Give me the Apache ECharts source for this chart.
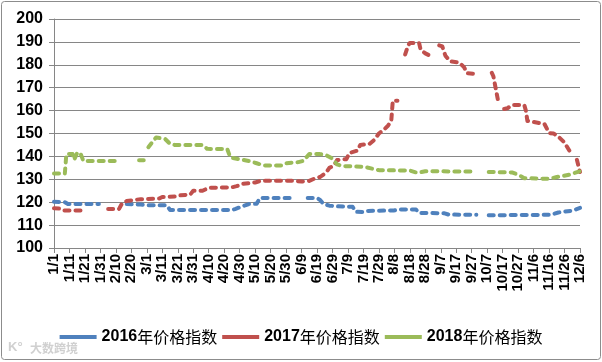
<!DOCTYPE html>
<html>
<head>
<meta charset="utf-8">
<script src="https://cdn.jsdelivr.net/npm/echarts@6/dist/echarts.min.js"></script>
<style>
html,body{margin:0;padding:0;background:#fff;}
#chart{width:602px;height:362px;}
</style>
</head>
<body>
<div id="chart"></div>
<script>
// ---- data ----
const monthLengths = [31,29,31,30,31,30,31,31,30,31,30,31];
const lastCategory = '12/6';
const seriesNames = ['2016年价格指数', '2017年价格指数', '2018年价格指数'];
const yTicks = [100,110,120,130,140,150,160,170,180,190,200];

const s2016 = [
  ['1/1',120.2],['1/8',120],['1/10',119.2],['1/30',119.2],['1/31',null],
  ['2/17',119.2],['2/26',119],['3/1',118.7],['3/14',118.7],['3/16',116.6],['4/25',116.6],['4/27',117],
  ['5/1',118],['5/6',119.2],['5/11',119.3],['5/13',121.8],['6/3',121.8],['6/4',null],
  ['6/13',121.8],['6/19',121.8],['6/21',121],['6/23',119.3],['6/27',118.5],['7/2',118.2],['7/12',118],
  ['7/14',115.8],['7/19',115.7],['7/22',116.2],['8/8',116.4],['8/10',116.8],['8/22',116.8],['8/24',115.3],
  ['9/9',115.2],['9/12',114.6],['9/30',114.5],['10/1',null],
  ['10/8',114.3],['10/27',114.4],['11/17',114.5],['11/22',115.5],['12/1',116.3],['12/6',117.5]
];
const s2017 = [
  ['1/1',117.4],['1/5',117.2],['1/7',116.4],['1/20',116.4],['1/21',null],
  ['2/5',117],['2/12',117],['2/14',119.5],['2/17',120.5],['2/22',121],['2/26',121.3],['3/9',121.6],
  ['3/11',122.3],['3/20',122.5],['3/22',123],['3/29',123.3],['3/31',125],['4/6',125],['4/10',126.3],
  ['4/25',126.5],['4/28',127],['5/2',128],['5/10',128.6],['5/14',129.4],['6/4',129.4],['6/9',129],
  ['6/14',129.3],['6/17',130.2],['6/21',131],['6/25',133],['6/27',135],['6/30',136],['7/2',138.4],
  ['7/8',138.8],['7/10',141.5],['7/15',142.5],['7/17',145],['7/23',145.5],['7/26',147.2],['7/29',150],
  ['8/1',151.5],['8/4',153.5],['8/6',155.5],['8/7',164.3],['8/10',164.3],['8/11',null],
  ['8/15',184.5],['8/17',188.6],['8/18',189.5],['8/24',189.5],['8/25',186.5],['8/28',185],['9/2',183.3],['9/3',null],
  ['9/6',188.5],['9/8',188],['9/10',184],['9/13',181.5],['9/19',181],['9/22',179],['9/24',176.3],['9/30',176],['10/1',null],
  ['10/10',176.5],['10/11',175],['10/14',164.5],['10/15',null],
  ['10/18',160.7],['10/20',161],['10/23',162.4],['10/31',162.4],['11/1',160],['11/2',155.5],['11/13',154.2],
  ['11/16',150.2],['11/19',150],['11/23',148],['11/26',146],['11/30',141.5],['12/1',null],
  ['12/4',138.5],['12/5',138],['12/6',133.2]
];
const s2018 = [
  ['1/1',132.5],['1/8',132.5],['1/9',141],['1/13',141],['1/14',138.5],['1/16',141.5],['1/18',141.5],
  ['1/20',138],['2/10',138],['2/11',null],
  ['2/25',138.3],['2/28',138.3],['2/29',null],
  ['3/2',144],['3/3',144.5],['3/7',148.3],['3/13',147.5],['3/16',145.5],['3/19',145],['4/6',145],
  ['4/9',143.3],['4/22',143.2],['4/24',139.5],['5/6',138],['5/11',137],['5/16',136],['5/27',136],
  ['5/30',137],['6/7',137.5],['6/10',138],['6/14',141],['6/21',141],['6/25',140.5],['6/29',139],
  ['7/2',136.5],['7/5',135.8],['7/19',135.5],['7/29',134],['8/18',133.8],['8/23',132.8],['8/28',133.5],
  ['9/30',133.4],['10/1',null],
  ['10/8',133.2],['10/23',133],['10/27',132],['10/31',130.5],['11/16',130.2],['11/21',131],['11/29',132],['12/6',133.5]
];
const colors = ['#4F81BD', '#C0504D', '#9BBB59'];

// ---- categories (daily, leap-year calendar) ----
const categories = [];
outer:
for (let m = 0; m < 12; m++) {
  for (let d = 1; d <= monthLengths[m]; d++) {
    const c = (m + 1) + '/' + d;
    categories.push(c);
    if (c === lastCategory) break outer;
  }
}

const chart = echarts.init(document.getElementById('chart'), null, {renderer: 'canvas'});
const lineStyleBase = {width: 4, type: [5, 6], cap: 'round', join: 'round'};
const dataSets = [s2016, s2017, s2018];

chart.setOption({
  animation: false,
  color: colors,
  grid: {left: 54, right: 22, top: 19, bottom: 114, containLabel: false},
  xAxis: {
    type: 'category',
    data: categories,
    boundaryGap: false,
    axisLine: {lineStyle: {color: '#868686', width: 1}},
    axisTick: {show: true, interval: 9, length: 5, lineStyle: {color: '#868686'}},
    axisLabel: {
      interval: 9, rotate: 90, margin: 6, hideOverlap: false,
      color: '#000', fontSize: 15, fontWeight: 'bold', fontFamily: 'Liberation Sans, Arial, sans-serif'
    },
    splitLine: {show: false}
  },
  yAxis: {
    type: 'value',
    min: yTicks[0], max: yTicks[yTicks.length - 1], interval: 10,
    axisLine: {show: true, lineStyle: {color: '#868686', width: 1}},
    axisTick: {show: true, length: 5, lineStyle: {color: '#868686'}},
    axisLabel: {
      margin: 11, color: '#000', fontSize: 16, fontWeight: 'bold',
      fontFamily: 'Liberation Sans, Arial, sans-serif'
    },
    splitLine: {show: true, lineStyle: {color: '#868686', width: 1}}
  },
  legend: {
    left: 'center', top: 324,
    icon: 'rect', itemWidth: 37, itemHeight: 4, itemGap: 5,
    data: seriesNames,
    formatter: function (name) { return '{a|' + name.slice(0, 4) + '}{b|' + name.slice(4) + '}'; },
    textStyle: {
      fontSize: 16, color: '#000',
      padding: [0, 0, 0, 0],
      rich: {
        a: {fontSize: 16, fontWeight: 'bold', color: '#000', fontFamily: 'Liberation Sans, Arial, sans-serif'},
        b: {fontSize: 16, fontWeight: 'normal', color: '#000', fontFamily: 'Noto Sans CJK SC, sans-serif'}
      }
    }
  },
  graphic: [
    {type: 'rect', shape: {x: 1.5, y: 1.5, width: 599, height: 358, r: 3},
     style: {fill: 'none', stroke: '#8c8c8c', lineWidth: 1}, z: 100},
    {type: 'text', left: 30, top: 342,
     style: {text: '大数跨境', fill: '#d0d0d0', font: 'bold 12px "Noto Sans CJK SC", sans-serif'}, z: 100},
    {type: 'text', left: 8, top: 341,
     style: {text: 'K°', fill: '#d0d0d0', font: 'bold 13px "Liberation Sans", sans-serif'}, z: 100}
  ],
  series: seriesNames.map(function (name, i) {
    return {
      name: name,
      type: 'line',
      data: dataSets[i],
      showSymbol: false,
      symbol: 'none',
      connectNulls: false,
      lineStyle: Object.assign({color: colors[i]}, lineStyleBase),
      emphasis: {disabled: true}
    };
  })
});
</script>
</body>
</html>
